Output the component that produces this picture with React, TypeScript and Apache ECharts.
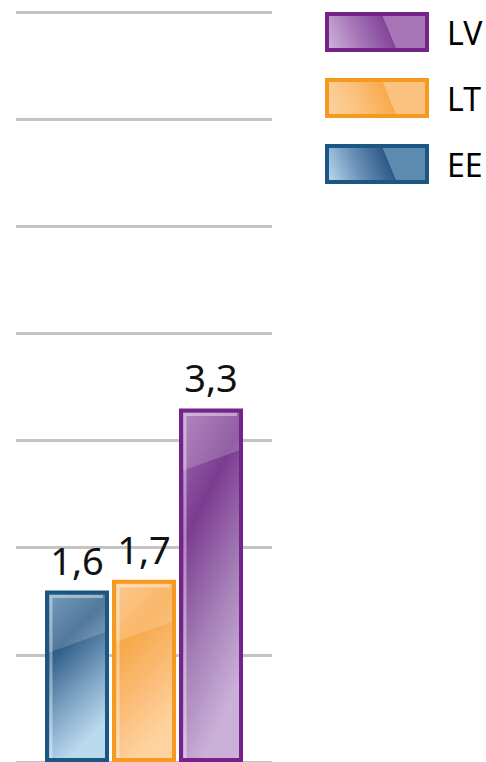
import React, { useEffect, useRef } from "react";
import * as echarts from "echarts";

const categories = ["2021"];
const seriesNames = ["EE", "LT", "LV"];
const values = [1.6, 1.7, 3.3];
const legendOrder = ["LV", "LT", "EE"];
const yMax = 7;
const yInterval = 1;

const palette: Record<string, { border: string; stops: string[]; leg: string[] }> = {
  EE: {
    border: "#1b5782",
    stops: ["#5a88ae", "#2d5b88", "#7ea4c4", "#bcdaee"],
    leg: ["#bcdcf0", "#6d92b8", "#2c5a88", "#5d8bb0"],
  },
  LT: {
    border: "#f5991f",
    stops: ["#fcc07a", "#f8a849", "#fbbd78", "#fed3a0"],
    leg: ["#fdd3a2", "#fbc17e", "#f8aa4e", "#fbc27f"],
  },
  LV: {
    border: "#75228b",
    stops: ["#a06eb2", "#7c3c91", "#a681b8", "#cbb0d8"],
    leg: ["#cfb5db", "#a678b8", "#84449a", "#a676b6"],
  },
};

const BAR_W = 64;
const GAP_PCT = 0.047;

function fill(name: string) {
  const s = palette[name].stops;
  return new echarts.graphic.LinearGradient(0, 0, 0.35, 1, [
    { offset: 0, color: s[0] },
    { offset: 0.35, color: s[1] },
    { offset: 0.7, color: s[2] },
    { offset: 1, color: s[3] },
  ]);
}

function legFill(name: string) {
  const s = palette[name].leg;
  return new echarts.graphic.LinearGradient(0, 1, 1, 0.85, [
    { offset: 0, color: s[0] },
    { offset: 0.35, color: s[1] },
    { offset: 0.68, color: s[2] },
    { offset: 0.685, color: s[3] },
    { offset: 1, color: s[3] },
  ]);
}

export default function App() {
  const ref = useRef<HTMLDivElement>(null);
  useEffect(() => {
    const chart = echarts.init(ref.current!, undefined, { renderer: "svg" });
    const n = seriesNames.length;
    const gap = BAR_W * GAP_PCT;
    const total = n * BAR_W + (n - 1) * gap;

    const barSeries = seriesNames.map((name, i) => ({
      type: "bar",
      name,
      data: [values[i]],
      barWidth: BAR_W,
      barGap: `${GAP_PCT * 100}%`,
      itemStyle: {
        color: fill(name),
        borderColor: palette[name].border,
        borderWidth: 4,
      },
      label: {
        show: true,
        position: "top",
        distance: 12,
        fontFamily: "Noto Sans",
        fontSize: 38,
        color: "#111",
        formatter: (p: any) => String(p.value).replace(".", ","),
      },
    }));

    const gloss = {
      type: "custom",
      silent: true,
      z: 5,
      data: values.map((v, i) => [0, v, i]),
      renderItem: (params: any, api: any) => {
        const idx = api.value(2);
        const top = api.coord([api.value(0), api.value(1)]);
        const base = api.coord([api.value(0), 0]);
        const x0 = top[0] - total / 2 + idx * (BAR_W + gap);
        const x1 = x0 + BAR_W;
        const y0 = top[1];
        const y1 = base[1];
        const ins = 4;
        return {
          type: "group",
          children: [
            {
              type: "polygon",
              shape: {
                points: [
                  [x0 + 4, y0 + 4],
                  [x1 - 4, y0 + 4],
                  [x1 - 4, y0 + 42],
                  [x0 + 4, y0 + 62],
                ],
              },
              style: { fill: "rgba(255,255,255,0.18)" },
            },
            {
              type: "polyline",
              shape: {
                points: [
                  [x0 + ins + 2, y1 - 4],
                  [x0 + ins + 2, y0 + ins + 2],
                  [x1 - ins - 2, y0 + ins + 2],
                ],
              },
              style: { fill: "none", stroke: "rgba(255,255,255,0.4)", lineWidth: 3 },
            },
          ],
        };
      },
    };

    chart.setOption({
      animation: false,
      grid: { left: 16, right: 214, top: 12, bottom: 0 },
      legend: {
        orient: "vertical",
        left: 325,
        top: 12,
        padding: 0,
        itemWidth: 100,
        itemHeight: 36,
        itemGap: 26,
        icon: "rect",
        textStyle: {
          fontFamily: "Noto Sans",
          fontSize: 32,
          lineHeight: 36,
          color: "#000",
          padding: [0, 0, 0, 15],
        },
        data: legendOrder.map((name) => ({
          name,
          icon: "rect",
          itemStyle: { color: legFill(name), borderColor: palette[name].border, borderWidth: 4 },
        })),
      },
      xAxis: {
        type: "category",
        data: categories,
        show: false,
      },
      yAxis: {
        type: "value",
        min: 0,
        max: yMax,
        interval: yInterval,
        axisLabel: { show: false },
        axisLine: { show: false },
        axisTick: { show: false },
        splitLine: { lineStyle: { color: "#c4c4c4", width: 3 } },
      },
      series: [...barSeries, gloss],
    });
    return () => chart.dispose();
  }, []);
  return (
    <div
      ref={ref}
      style={{ position: "absolute", left: 0, top: 0, width: 486, height: 762 }}
    />
  );
}
